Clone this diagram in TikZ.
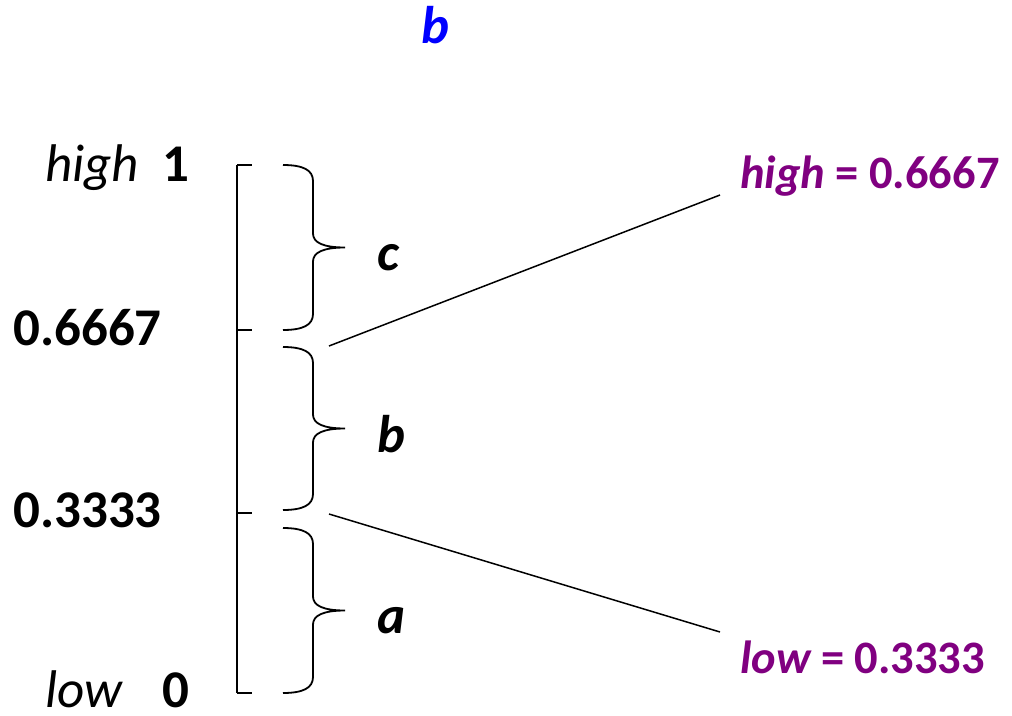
\documentclass[tikz,border=0pt]{standalone}
\usepackage{fontspec}
\setmainfont{Carlito}
\definecolor{purp}{RGB}{128,0,128}
\begin{document}
\begin{tikzpicture}[x=1pt,y=-1pt,
  lbl/.style={inner sep=0pt,font=\fontsize{53}{58}\selectfont},
  rlbl/.style={inner sep=0pt,font=\fontsize{46.5}{52}\selectfont\bfseries,text=purp},
  ln/.style={line width=1.8pt},
  thin/.style={line width=1.5pt}]
\useasboundingbox (0,0) rectangle (1012,715);
% axis
\coordinate (top) at (237,165);
\coordinate (bot) at (237,693);
\draw[ln] (top) -- (bot);
\foreach \y/\n in {165/t1,330/t2,513/t3,693/t4}{
  \coordinate (\n) at (252,\y);
  \draw[ln] (237,\y) -- (\n);
}
% braces
\foreach \ya/\yb in {165/330,347/510,528/693}{
  \pgfmathsetmacro{\ym}{(\ya+\yb)/2}
  \draw[ln] (283,\ya) .. controls (303,\ya) and (313,\ya+5) .. (313,\ya+16)
    -- (313,\ym-14) .. controls (313,\ym-5) and (323,\ym) .. (345,\ym)
    .. controls (323,\ym) and (313,\ym+5) .. (313,\ym+14)
    -- (313,\yb-16) .. controls (313,\yb-5) and (303,\yb) .. (283,\yb);
}
% left labels
\node[lbl,anchor=base west] (hi) at (45,181) {\itshape high};
\node[lbl,anchor=base east] (one) at (190,181) {\bfseries 1};
\node[lbl,anchor=base east] (v2) at (162,345) {\bfseries 0.6667};
\node[lbl,anchor=base east] (v1) at (162,527) {\bfseries 0.3333};
\node[lbl,anchor=base west] (lo) at (45,707) {\itshape low};
\node[lbl,anchor=base east] (zero) at (190,707) {\bfseries 0};
% brace labels
\node[lbl,anchor=base west] (c) at (377,270) {\bfseries\itshape c};
\node[lbl,anchor=base west] (b) at (377,452) {\bfseries\itshape b};
\node[lbl,anchor=base west] (a) at (377,633) {\bfseries\itshape a};
% title
\node[lbl,anchor=base west,text=blue] (title) at (421,43) {\bfseries\itshape b};
% right labels
\node[rlbl,anchor=base west] (nh) at (740,188) {\itshape high\upshape{} = 0.6667};
\node[rlbl,anchor=base west] (nl) at (740,673) {\itshape low\upshape{} = 0.3333};
% connectors
\coordinate (s1) at (329,346);
\coordinate (e1) at (720,195);
\coordinate (s2) at (329,514);
\coordinate (e2) at (720,632);
\draw[thin] (s1) -- (e1);
\draw[thin] (s2) -- (e2);
\end{tikzpicture}
\end{document}
